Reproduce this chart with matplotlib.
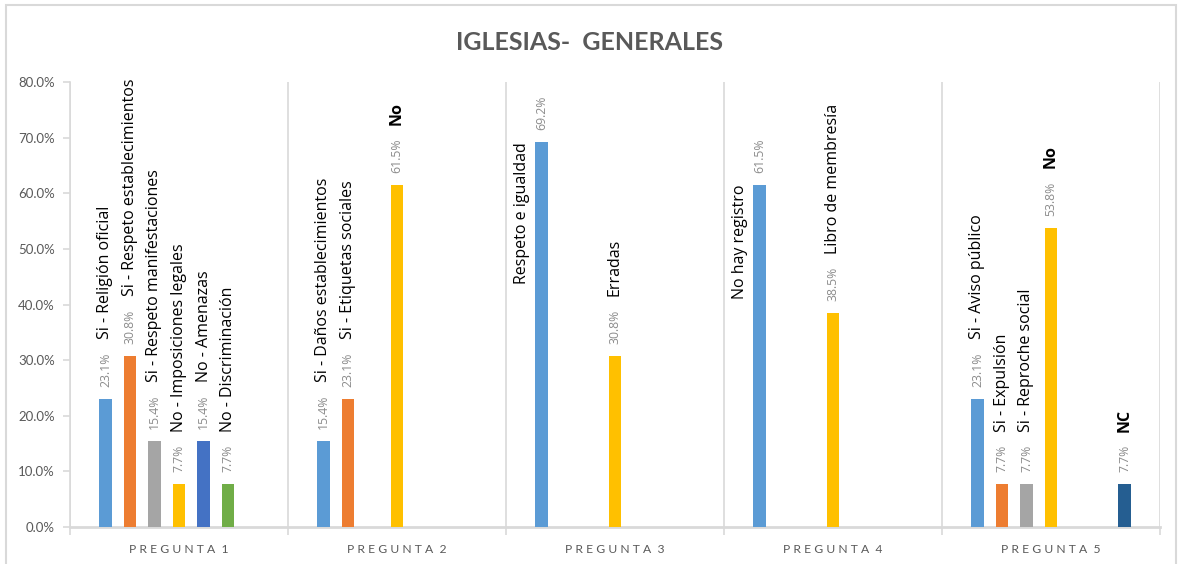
import matplotlib
matplotlib.use("Agg")
import matplotlib.pyplot as plt
import numpy as np
from matplotlib.ticker import FuncFormatter, FixedLocator

nan = np.nan

preguntas = ["PREGUNTA 1", "PREGUNTA 2", "PREGUNTA 3", "PREGUNTA 4", "PREGUNTA 5"]

# one list per series (slot inside each group), values per pregunta
serie_1 = [0.231, 0.154, 0.692, 0.615, 0.231]
serie_2 = [0.308, 0.231, nan, nan, 0.077]
serie_3 = [0.154, nan, nan, nan, 0.077]
serie_4 = [0.077, 0.615, 0.308, 0.385, 0.538]
serie_5 = [0.154, nan, nan, nan, nan]
serie_6 = [0.077, nan, nan, nan, nan]
serie_7 = [nan, nan, nan, nan, 0.077]

etiquetas_1 = ["Si - Religión oficial", "Si - Daños establecimientos", "Respeto e igualdad", "No hay registro", "Si - Aviso público"]
etiquetas_2 = ["Si - Respeto establecimientos", "Si - Etiquetas sociales", "", "", "Si - Expulsión"]
etiquetas_3 = ["Si - Respeto manifestaciones", "", "", "", "Si - Reproche social"]
etiquetas_4 = ["No - Imposiciones legales", "No", "Erradas", "Libro de membresía", "No"]
etiquetas_5 = ["No - Amenazas", "", "", "", ""]
etiquetas_6 = ["No - Discriminación", "", "", "", ""]
etiquetas_7 = ["", "", "", "", "NC"]

series = [serie_1, serie_2, serie_3, serie_4, serie_5, serie_6, serie_7]
etiquetas = [etiquetas_1, etiquetas_2, etiquetas_3, etiquetas_4, etiquetas_5, etiquetas_6, etiquetas_7]
colores = ["#5B9BD5", "#ED7D31", "#A5A5A5", "#FFC000", "#4472C4", "#70AD47", "#255E91"]

# labels that sit to the left of their bar instead of above
al_lado = ["Respeto e igualdad", "No hay registro"]
negrita = ["No", "NC"]

fig = plt.figure(figsize=(11.78, 5.64), dpi=100)
ax = fig.add_axes([70 / 1178, 1 - 527 / 564, 1090 / 1178, 445 / 564])

x = np.arange(len(preguntas))
paso = 0.1125
ancho = 0.058

barras = []
for i, (vals, col) in enumerate(zip(series, colores)):
    pos = x + (i - 3) * paso
    ax.bar(pos, vals, width=ancho, color=col, zorder=3)
    for j, v in enumerate(vals):
        if np.isnan(v):
            continue
        barras.append((pos[j], v, etiquetas[i][j]))

ax.set_xlim(-0.5, len(preguntas) - 0.5)
ax.set_ylim(0, 0.8)
ax.yaxis.set_major_locator(FixedLocator(np.arange(0, 0.81, 0.1)))
ax.yaxis.set_major_formatter(FuncFormatter(lambda v, p: f"{v:.1%}"))

# separators between preguntas
ax.xaxis.set_major_locator(FixedLocator(np.arange(-0.5, len(preguntas), 1.0)))
ax.xaxis.set_major_formatter(FuncFormatter(lambda v, p: ""))
ax.xaxis.set_minor_locator(FixedLocator(x))
ax.set_xticklabels([" ".join(p.split(" ")[0]) + "  " + p.split(" ")[1] for p in preguntas], minor=True)
ax.grid(axis="x", which="major", color="#D9D9D9", lw=1.2, zorder=0)
ax.tick_params(axis="x", which="major", length=6, color="#D9D9D9", width=1.2)
ax.tick_params(axis="x", which="minor", length=0, pad=12, labelsize=8.7, labelcolor="#595959")
ax.tick_params(axis="y", length=5, color="#D9D9D9", width=1.2, pad=6, labelsize=9.5, labelcolor="#595959")
for lab in ax.get_xticklabels(minor=True):
    lab.set_fontfamily("Lato")
for lab in ax.get_yticklabels():
    lab.set_fontfamily("Lato")

for s in ["top", "right"]:
    ax.spines[s].set_visible(False)
ax.spines["left"].set_color("#D9D9D9")
ax.spines["bottom"].set_color("#D9D9D9")
ax.spines["left"].set_linewidth(1.2)
ax.spines["bottom"].set_linewidth(2)

fig.text(0.5, 1 - 42 / 564, "IGLESIAS-  GENERALES", ha="center", va="center",
         fontsize=18, fontweight="bold", color="#595959", family="Lato")

# chart border
fig.patches.append(plt.Rectangle((6 / 1178, -0.05), 1170 / 1178, 1 - 5 / 564 + 0.05,
                                 transform=fig.transFigure, fill=False,
                                 edgecolor="#D9D9D9", lw=1.5))

valores_txt = []
for bx, v, nombre in barras:
    t = ax.annotate(f"{v:.1%}", xy=(bx, v), xytext=(0, 12), textcoords="offset pixels",
                    rotation=90, ha="center", va="bottom", fontsize=8.8,
                    color="#8C8C8C", family="Open Sans")
    valores_txt.append(t)

fig.canvas.draw()
rend = fig.canvas.get_renderer()
for (bx, v, nombre), t in zip(barras, valores_txt):
    if not nombre:
        continue
    peso = "bold" if nombre in negrita else "normal"
    if nombre in al_lado:
        ax.annotate(nombre, xy=(bx, v), xytext=(-19, 0), textcoords="offset pixels",
                    rotation=90, ha="center", va="top", fontsize=11.5,
                    color="black", family="Open Sans")
        continue
    bb = t.get_window_extent(rend)
    y0 = ax.transData.transform((bx, v))[1]
    off = bb.y1 - y0 + 13
    ax.annotate(nombre, xy=(bx, v), xytext=(0, off), textcoords="offset pixels",
                rotation=90, ha="center", va="bottom", fontsize=11.5,
                color="black", family="Open Sans", fontweight=peso)

fig.savefig("out.png", dpi=100)
